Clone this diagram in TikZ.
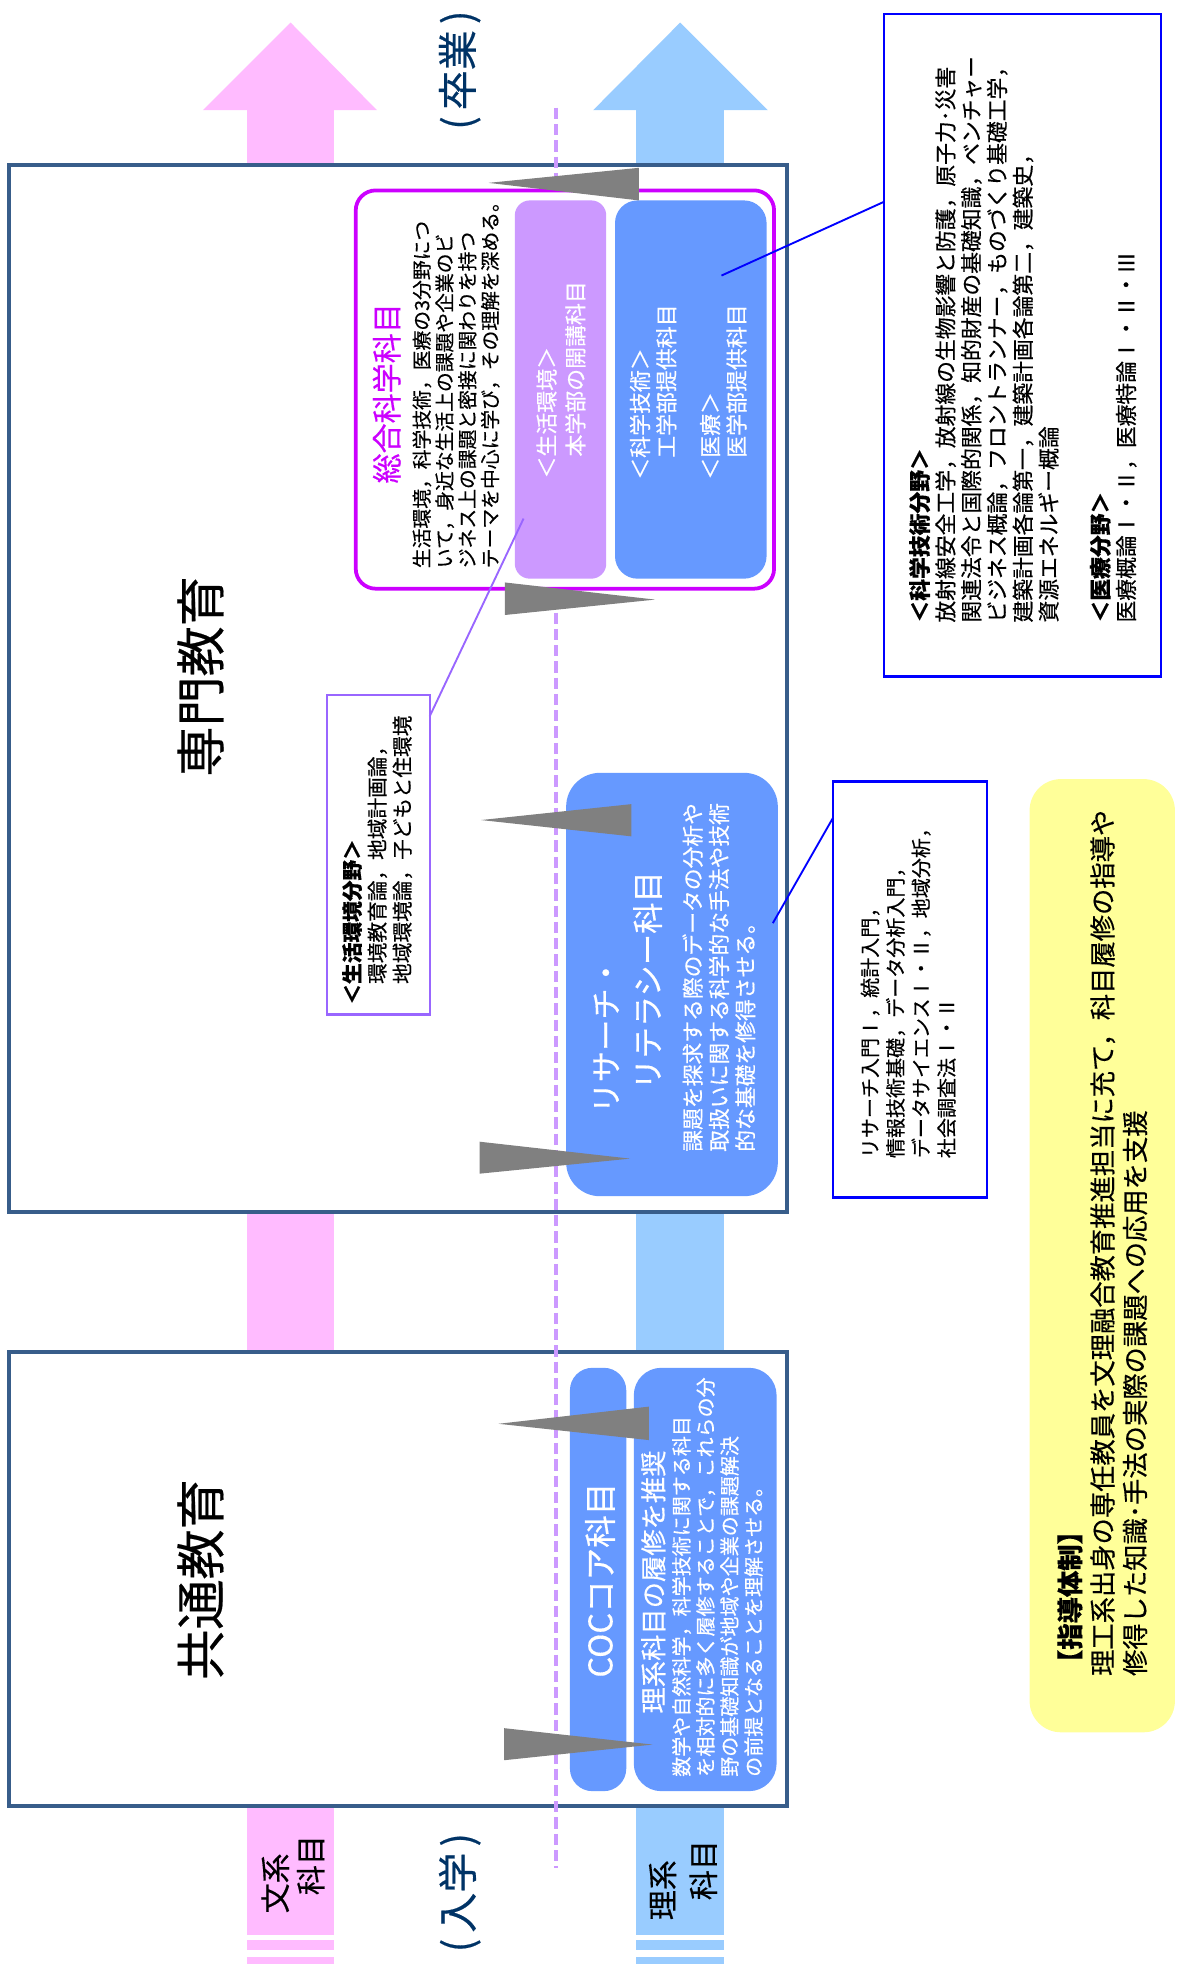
\documentclass[tikz,border=0pt]{standalone}
\usepackage{fontspec}
\setmainfont{Noto Sans CJK JP}[FakeBold=0.4]
\definecolor{pinkA}{HTML}{FFBBFF}
\definecolor{blueA}{HTML}{99CCFF}
\definecolor{frameblue}{HTML}{385D8A}
\definecolor{magA}{HTML}{CC00FF}
\definecolor{lilac}{HTML}{CC99FF}
\definecolor{boxblue}{HTML}{6699FF}
\definecolor{callpurple}{HTML}{9966FF}
\definecolor{callblue}{HTML}{0000FF}
\definecolor{yellowA}{HTML}{FFFF99}
\definecolor{wedgegray}{HTML}{808080}
\definecolor{navy}{HTML}{003366}
\newcommand\fsz[2]{\fontsize{#1pt}{#2pt}\selectfont}
\newcommand\lpar{(\hspace{0.15em}}
\newcommand\rpar{\hspace{0.15em})}
\tikzset{
  vt/.style={rotate=90, inner sep=0pt, outer sep=0pt},
  vblk/.style={rotate=90, inner sep=0pt, outer sep=0pt, anchor=north west, align=left},
  area/.style={anchor=north west, inner sep=0pt, outer sep=0pt, rectangle},
  bigbox/.style={area, draw=frameblue, line width=3.2pt, fill=white},
  wedge/.style={fill=wedgegray},
  callout/.style={area, fill=white, line width=1.8pt},
}
\begin{document}
\begin{tikzpicture}[x=1pt,y=-1pt]
\useasboundingbox (0,0) rectangle (939,1568);
% --- vertical arrows
\fill[pinkA] (162,88) -- (232,18) -- (301,88) -- cycle;
\fill[pinkA] (197,87) rectangle (267,1545);
\fill[pinkA] (197,1549) rectangle (267,1557);
\fill[pinkA] (197,1562) rectangle (267,1568);
\fill[blueA] (473.5,88) -- (543,18) -- (613,88) -- cycle;
\fill[blueA] (508,87) rectangle (578,1545);
\fill[blueA] (508,1549) rectangle (578,1557);
\fill[blueA] (508,1562) rectangle (578,1568);
% --- big frames
\node[bigbox, minimum width=621pt, minimum height=836pt] (senmon) at (7,132) {};
\node[bigbox, minimum width=621pt, minimum height=363pt] (kyotsu) at (7,1079) {};
% --- dashed center line
\coordinate (dtop) at (444,86);
\coordinate (dbot) at (444,1491);
\draw[lilac, line width=3pt, dash pattern=on 9pt off 4pt] (dtop) -- (dbot);
% --- sogo group
\node[area, draw=magA, line width=3pt, fill=white, rounded corners=16pt, minimum width=334pt, minimum height=318pt] (sogo) at (284,152) {};
\node[area, fill=lilac, rounded corners=12pt, minimum width=73pt, minimum height=302pt] (seikatsu) at (411,160) {};
\node[area, fill=boxblue, rounded corners=18pt, minimum width=121pt, minimum height=302pt] (kagaku) at (491,160) {};
% --- research literacy
\node[area, fill=boxblue, rounded corners=27pt, minimum width=169pt, minimum height=338pt] (research) at (452,617) {};
% --- COC
\node[area, fill=boxblue, rounded corners=18pt, minimum width=45pt, minimum height=338pt] (cocL) at (455,1092) {};
\node[area, fill=boxblue, rounded corners=22pt, minimum width=114pt, minimum height=338pt] (cocR) at (506,1092) {};
% --- yellow
\node[area, fill=yellowA, rounded corners=25pt, minimum width=116pt, minimum height=761pt] (shido) at (822,622) {};
% --- wedges
\fill[wedge] (390,146) -- (510,134) -- (510,160) -- cycle;
\fill[wedge] (403,465) -- (523,478.7) -- (403,491) -- cycle;
\fill[wedge] (384,654.7) -- (504,642) -- (504,667.7) -- cycle;
\fill[wedge] (383,911.5) -- (503,925) -- (383,937) -- cycle;
\fill[wedge] (398,1136.7) -- (518,1123) -- (518,1149.7) -- cycle;
\fill[wedge] (402.5,1379.7) -- (521,1392.8) -- (402.5,1405.3) -- cycle;
% --- callouts
\node[callout, draw=callpurple, minimum width=82pt, minimum height=255pt] (cSeikatsu) at (261,555) {};
\node[callout, draw=callblue, minimum width=123pt, minimum height=332pt] (cResearch) at (665,624) {};
\node[callout, draw=callblue, minimum width=221pt, minimum height=529pt] (cKagaku) at (706,11) {};
\coordinate (p1a) at (343,572);
\coordinate (p1b) at (418,414);
\draw[callpurple, line width=1.5pt] (p1a) -- (p1b);
\coordinate (p2a) at (617,737);
\coordinate (p2b) at (665,653);
\draw[callblue, line width=1.5pt] (p2a) -- (p2b);
\coordinate (p3a) at (576,220);
\coordinate (p3b) at (706,161);
\draw[callblue, line width=1.5pt] (p3a) -- (p3b);
% --- texts
\node[vt, text=navy, font=\fsz{32}{36}] (sotsugyo) at (367,56) {\lpar 卒業\rpar};
\node[vt, text=navy, font=\fsz{32}{36}] (nyugaku) at (367,1511) {\lpar 入学\rpar};
\node[vt, font=\fsz{40}{44}] (tSenmon) at (160,540) {専門教育};
\node[vt, font=\fsz{40}{44}] (tKyotsu) at (160,1261) {共通教育};
\node[vt, anchor=west, text=magA, font=\fsz{24}{28}] (tSogo) at (308.7,386) {総合科学科目};
\node[vblk, font=\fsz{15.8}{18.2}] (tSogoD) at (329.3,453.6) {生活環境，科学技術，医療の3分野につ\\いて，身近な生活上の課題や企業のビ\\ジネス上の課題と密接に関わりを持つ\\テーマを中心に学び，その理解を深める。};
\node[vblk, text=white, font=\fsz{17.5}{23}] (tSeikatsu) at (428.3,382) {＜生活環境＞\\　本学部の開講科目};
\node[vblk, text=white, font=\fsz{17.5}{21}] (tKagaku) at (502.8,383) {＜科学技術＞\\　工学部提供科目\\[14pt]＜医療＞\\　医学部提供科目};
\node[vblk, font=\fsz{16.5}{20}] (tcSeikatsu) at (273.2,802) {{\bfseries ＜生活環境分野＞}\\　環境教育論，地域計画論，\\　地域環境論，子どもと住環境};
\node[vt, anchor=west, text=white, font=\fsz{25}{28}] (tRes1) at (484,889) {リサーチ・};
\node[vt, anchor=west, text=white, font=\fsz{25}{28}] (tRes2) at (517,870) {リテラシー科目};
\node[vblk, text=white, font=\fsz{17.4}{21}] (tResD) at (544.8,919.5) {課題を探求する際のデータの分析や\\取扱いに関する科学的な手法や技術\\的な基礎を修得させる。};
\node[vblk, font=\fsz{16}{20.4}] (tcResearch) at (687.1,924.6) {リサーチ入門Ⅰ，統計入門，\\情報技術基礎，データ分析入門，\\データサイエンスⅠ・Ⅱ，地域分析，\\社会調査法Ⅰ・Ⅱ};
\node[vblk, font=\fsz{17.4}{20.6}] (tcKagaku) at (725.8,497) {{\bfseries ＜科学技術分野＞}\\放射線安全工学，放射線の生物影響と防護，原子力･災害\\関連法令と国際的関係，知的財産の基礎知識，ベンチャー\\ビジネス概論，フロントランナー，ものづくり基礎工学，\\建築計画各論第一，建築計画各論第二，建築史，\\資源エネルギー概論\\ \\{\bfseries ＜医療分野＞}\\医療概論Ⅰ・Ⅱ，医療特論Ⅰ・Ⅱ・Ⅲ};
\node[vblk, font=\fsz{21}{26}] (tShido) at (844.1,1338) {{\bfseries 【指導体制】}\\理工系出身の専任教員を文理融合教育推進担当に充て，科目履修の指導や\\修得した知識･手法の実際の課題への応用を支援};
\node[vt, text=white, font=\fsz{26}{30}] (tCoc) at (479,1261.5) {COCコア科目};
\node[vt, anchor=west, text=white, font=\fsz{21}{24}] (tCocA) at (521.6,1368) {理系科目の履修を推奨};
\node[vblk, text=white, font=\fsz{16}{19.2}] (tCocD) at (536.5,1418.5) {数学や自然科学，科学技術に関する科目\\を相対的に多く履修することで，これらの分\\野の基礎知識が地域や企業の課題解決\\の前提となることを理解させる。};
\node[vt, font=\fsz{24}{28}] (tBun1) at (219.7,1503.6) {文系};
\node[vt, font=\fsz{24}{28}] (tBun2) at (248,1489) {科目};
\node[vt, font=\fsz{24}{28}] (tRi1) at (529,1509) {理系};
\node[vt, font=\fsz{24}{28}] (tRi2) at (561.4,1493) {科目};
\end{tikzpicture}
\end{document}
